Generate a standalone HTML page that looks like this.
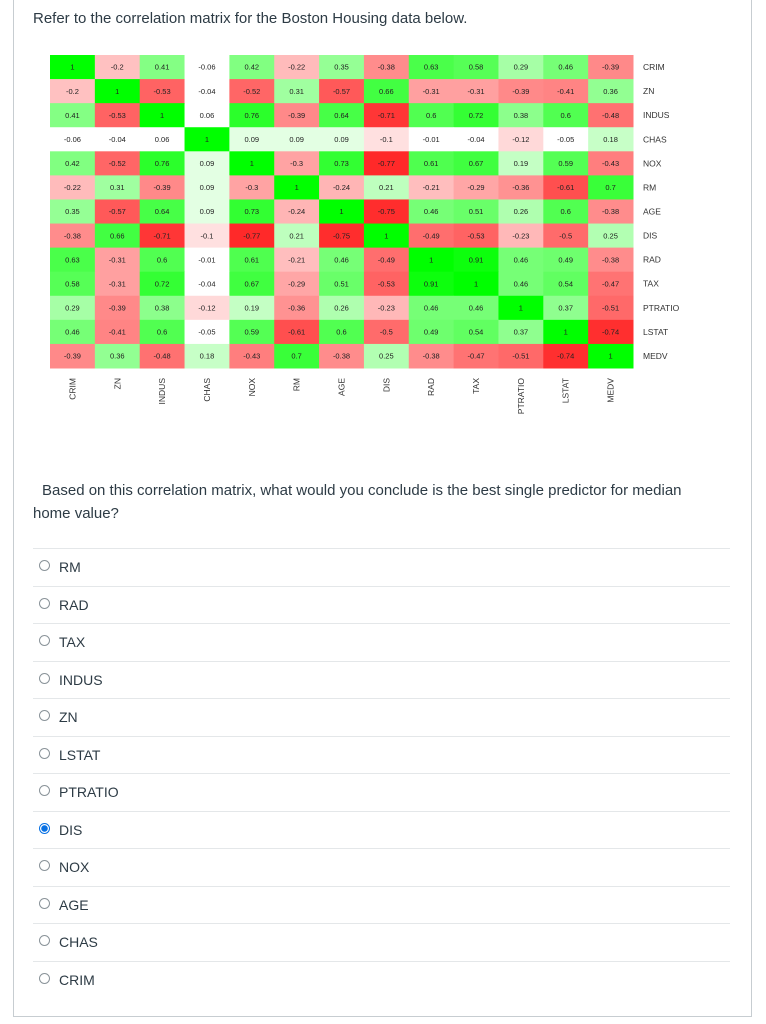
<!DOCTYPE html>
<html><head><meta charset="utf-8"><style>
body{margin:0;width:766px;height:1024px;background:#fff;font-family:"Liberation Sans",sans-serif;position:relative;overflow:hidden;color:#2d3b45}
.frame{position:absolute;left:13px;top:-2px;width:737px;height:1018px;border:1px solid #c7cdd1;border-top:none}
.title{position:absolute;left:33px;top:10px;font-size:15px}
.q{position:absolute;left:33px;top:479px;font-size:15px;line-height:23px;width:688px;text-indent:9px}
.opt{position:absolute;left:33px;width:697px;height:37px;border-top:1px solid #e4e7e9;font-size:14px}
.opt span.r{position:absolute;left:6px;top:11px;width:11px;height:11px;border:1px solid #8a9399;border-radius:50%;box-sizing:border-box}
.opt span.r.on{border:1px solid #0770e3;background:radial-gradient(circle,#0770e3 0 3px,#fff 3.5px)}
.opt span.t{position:absolute;left:26px;top:10px}
</style></head><body>
<div class="frame"></div>
<div class="title">Refer to the correlation matrix for the Boston Housing data below.</div>
<svg id="chart" style="position:absolute;left:0;top:0" width="766" height="440"></svg>
<div class="q">Based on this correlation matrix, what would you conclude is the best single predictor for median home value?</div>
<div id="opts"></div>
<script>
const labels=["CRIM","ZN","INDUS","CHAS","NOX","RM","AGE","DIS","RAD","TAX","PTRATIO","LSTAT","MEDV"];
const rCRIM=[1,-0.2,0.41,-0.06,0.42,-0.22,0.35,-0.38,0.63,0.58,0.29,0.46,-0.39];
const rZN=[-0.2,1,-0.53,-0.04,-0.52,0.31,-0.57,0.66,-0.31,-0.31,-0.39,-0.41,0.36];
const rINDUS=[0.41,-0.53,1,0.06,0.76,-0.39,0.64,-0.71,0.6,0.72,0.38,0.6,-0.48];
const rCHAS=[-0.06,-0.04,0.06,1,0.09,0.09,0.09,-0.1,-0.01,-0.04,-0.12,-0.05,0.18];
const rNOX=[0.42,-0.52,0.76,0.09,1,-0.3,0.73,-0.77,0.61,0.67,0.19,0.59,-0.43];
const rRM=[-0.22,0.31,-0.39,0.09,-0.3,1,-0.24,0.21,-0.21,-0.29,-0.36,-0.61,0.7];
const rAGE=[0.35,-0.57,0.64,0.09,0.73,-0.24,1,-0.75,0.46,0.51,0.26,0.6,-0.38];
const rDIS=[-0.38,0.66,-0.71,-0.1,-0.77,0.21,-0.75,1,-0.49,-0.53,-0.23,-0.5,0.25];
const rRAD=[0.63,-0.31,0.6,-0.01,0.61,-0.21,0.46,-0.49,1,0.91,0.46,0.49,-0.38];
const rTAX=[0.58,-0.31,0.72,-0.04,0.67,-0.29,0.51,-0.53,0.91,1,0.46,0.54,-0.47];
const rPTRATIO=[0.29,-0.39,0.38,-0.12,0.19,-0.36,0.26,-0.23,0.46,0.46,1,0.37,-0.51];
const rLSTAT=[0.46,-0.41,0.6,-0.05,0.59,-0.61,0.6,-0.5,0.49,0.54,0.37,1,-0.74];
const rMEDV=[-0.39,0.36,-0.48,0.18,-0.43,0.7,-0.38,0.25,-0.38,-0.47,-0.51,-0.74,1];
const matrix=[rCRIM,rZN,rINDUS,rCHAS,rNOX,rRM,rAGE,rDIS,rRAD,rTAX,rPTRATIO,rLSTAT,rMEDV];
const options=["RM","RAD","TAX","INDUS","ZN","LSTAT","PTRATIO","DIS","NOX","AGE","CHAS","CRIM"];
const selected="DIS";

const NS="http://www.w3.org/2000/svg",svg=document.getElementById('chart');
const X0=50,Y0=55,CW=583/13,CH=313/13;
const xs=i=>X0+i*CW, ys=j=>Y0+j*CH;
function color(v){
  const a=Math.abs(v); if(a<0.08) return '#ffffff';
  const c=Math.round(255*Math.pow(1-Math.min(1,a),1.25));
  return v>0?`rgb(${c},255,${c})`:`rgb(255,${c},${c})`;
}
function el(t,at){const e=document.createElementNS(NS,t);for(const k in at)e.setAttribute(k,at[k]);svg.appendChild(e);return e;}
matrix.forEach((row,j)=>row.forEach((v,i)=>{
  const r=el('rect',{x:xs(i),y:ys(j),width:CW+0.5,height:CH+0.5,fill:color(v)});
  
  
  const t=el('text',{x:xs(i)+CW/2,y:ys(j)+CH/2+2.7,'font-size':7.5,'text-anchor':'middle',fill:'#222'});
  t.textContent=String(v);
  
  
}));
labels.forEach((l,k)=>{
  const t=el('text',{x:643,y:ys(k)+CH/2+3,'font-size':8.5,fill:'#333'});
  t.textContent=l;
  
  
  const cx=xs(k)+CW/2+3,cy=378;
  const u=el('text',{x:cx,y:cy,'font-size':8.5,fill:'#333','text-anchor':'end',transform:`rotate(-90 ${cx} ${cy})`});
  u.textContent=l;
  
  
});
const oc=document.getElementById('opts');
options.forEach((o,i)=>{
  const d=document.createElement('div');d.className='opt';d.style.top=(548+i*37.5)+'px';
  
  
  d.innerHTML=`<span class="r${o===selected?' on':''}"></span><span class="t">${o}</span>`;
  oc.appendChild(d);
});
</script>
</body></html>
